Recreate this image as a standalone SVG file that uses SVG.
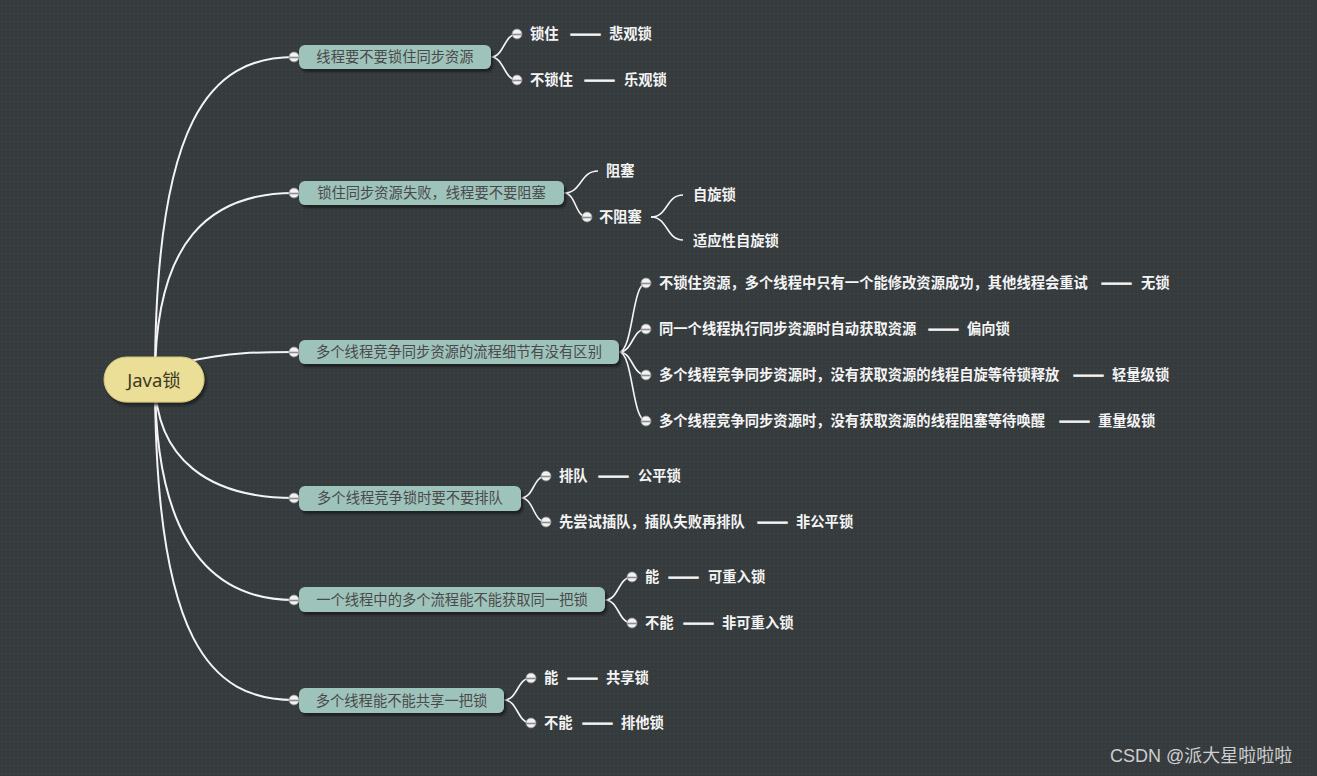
<svg xmlns="http://www.w3.org/2000/svg" width="1317" height="776" viewBox="0 0 1317 776">
<defs>
<pattern id="dots" width="4" height="4" patternUnits="userSpaceOnUse">
<rect width="4" height="4" fill="#363b3e"/>
<rect x="1" y="1" width="1" height="1" fill="#42484b"/>
</pattern>
<filter id="sh" x="-10%" y="-30%" width="130%" height="180%">
<feDropShadow dx="2" dy="3" stdDeviation="1.2" flood-color="#15191b" flood-opacity="0.8"/>
</filter>
<g id="knob">
<circle r="5" fill="#f2f2f2" stroke="#8a8a8a" stroke-width="0.8"/>
<line x1="-4.5" y1="0.5" x2="4.5" y2="0.5" stroke="#8c8c8c" stroke-width="1.6"/>
</g>
</defs>
<style>
.main{fill:#9ec3bb;}
.mt{font-family:"Noto Sans CJK SC","Microsoft YaHei",sans-serif;font-size:14.3px;fill:#4a4a4a;text-anchor:middle;}
.ct{font-family:"Noto Sans CJK SC","Microsoft YaHei",sans-serif;font-size:14.3px;font-weight:bold;fill:#f4f4f4;}
.d{stroke:#f4f4f4;stroke-width:0.9;}
.e1{fill:none;stroke:#f4f4f4;stroke-width:2;}
.e2{fill:none;stroke:#f4f4f4;stroke-width:1.6;}
</style>
<rect width="1317" height="776" fill="url(#dots)"/>

<g id="connectors">
<path class="e1" d="M155,379 C155,120 210,57 294,57"/>
<path class="e1" d="M155,379 C155,240 210,193 294,193"/>
<path class="e1" d="M185,362 C230,352 260,352 294,352"/>
<path class="e1" d="M155,379 C155,460 210,498 294,498"/>
<path class="e1" d="M155,379 C155,540 210,600 294,600"/>
<path class="e1" d="M155,379 C155,640 210,700 294,700"/>
<path class="e2" d="M491,57 C504,57 504,34 517,34"/>
<path class="e2" d="M491,57 C504,57 504,80 517,80"/>
<path class="e2" d="M564,193 C582,193 580,171 598,171"/>
<path class="e2" d="M564,193 C576,193 575,217 587,217"/>
<path class="e2" d="M651,217 C668,217 666,195 683,195"/>
<path class="e2" d="M651,217 C668,217 666,240 683,240"/>
<path class="e2" d="M619,352 C633,352 632,283 646,283"/>
<path class="e2" d="M619,352 C633,352 632,329 646,329"/>
<path class="e2" d="M619,352 C633,352 632,375 646,375"/>
<path class="e2" d="M619,352 C633,352 632,421 646,421"/>
<path class="e2" d="M521,498 C534,498 533,476 546,476"/>
<path class="e2" d="M521,498 C534,498 533,522 546,522"/>
<path class="e2" d="M605,600 C619,600 618,577 632,577"/>
<path class="e2" d="M605,600 C619,600 618,623 632,623"/>
<path class="e2" d="M504,700 C518,700 517,678 531,678"/>
<path class="e2" d="M504,700 C518,700 517,723 531,723"/>
</g>

<g id="root">
<rect x="104" y="357" width="100" height="45" rx="22.5" fill="#ebdf98" stroke="#d3c67c" stroke-width="1" filter="url(#sh)"/>
<text x="154" y="387" font-family="Noto Sans, Noto Sans CJK SC, sans-serif" font-size="18.5" fill="#3b3a22" text-anchor="middle">Java锁</text>
</g>

<g id="n1">
<rect class="main" x="299" y="45" width="192" height="24" rx="6" filter="url(#sh)"/>
<text class="mt" x="395" y="62">线程要不要锁住同步资源</text>
<use href="#knob" x="294" y="57"/>
</g>
<g id="n1a"><use href="#knob" x="517" y="34"/><text class="ct" y="39"><tspan x="530">锁住</tspan><tspan class="d" x="570" textLength="31" lengthAdjust="spacingAndGlyphs">——</tspan><tspan x="609">悲观锁</tspan></text></g>
<g id="n1b"><use href="#knob" x="517" y="80"/><text class="ct" y="85"><tspan x="530">不锁住</tspan><tspan class="d" x="584" textLength="31" lengthAdjust="spacingAndGlyphs">——</tspan><tspan x="624">乐观锁</tspan></text></g>

<g id="n2">
<rect class="main" x="299" y="181" width="265" height="24" rx="6" filter="url(#sh)"/>
<text class="mt" x="431.5" y="198">锁住同步资源失败，线程要不要阻塞</text>
<use href="#knob" x="294" y="193"/>
</g>
<g id="n2a"><text class="ct" x="606" y="176">阻塞</text></g>
<g id="n2b"><use href="#knob" x="587" y="217"/><text class="ct" x="599" y="222">不阻塞</text></g>
<g id="n2b1"><text class="ct" x="693" y="200">自旋锁</text></g>
<g id="n2b2"><text class="ct" x="693" y="246">适应性自旋锁</text></g>

<g id="n3">
<rect class="main" x="299" y="340" width="320" height="24" rx="6" filter="url(#sh)"/>
<text class="mt" x="459" y="357">多个线程竞争同步资源的流程细节有没有区别</text>
<use href="#knob" x="294" y="352"/>
</g>
<g id="n3a"><use href="#knob" x="646" y="283"/><text class="ct" y="288"><tspan x="659">不锁住资源，多个线程中只有一个能修改资源成功，其他线程会重试</tspan><tspan class="d" x="1101" textLength="31" lengthAdjust="spacingAndGlyphs">——</tspan><tspan x="1141">无锁</tspan></text></g>
<g id="n3b"><use href="#knob" x="646" y="329"/><text class="ct" y="334"><tspan x="659">同一个线程执行同步资源时自动获取资源</tspan><tspan class="d" x="928" textLength="31" lengthAdjust="spacingAndGlyphs">——</tspan><tspan x="967">偏向锁</tspan></text></g>
<g id="n3c"><use href="#knob" x="646" y="375"/><text class="ct" y="380"><tspan x="659">多个线程竞争同步资源时，没有获取资源的线程自旋等待锁释放</tspan><tspan class="d" x="1073" textLength="31" lengthAdjust="spacingAndGlyphs">——</tspan><tspan x="1112">轻量级锁</tspan></text></g>
<g id="n3d"><use href="#knob" x="646" y="421"/><text class="ct" y="426"><tspan x="659">多个线程竞争同步资源时，没有获取资源的线程阻塞等待唤醒</tspan><tspan class="d" x="1059" textLength="31" lengthAdjust="spacingAndGlyphs">——</tspan><tspan x="1098">重量级锁</tspan></text></g>

<g id="n4">
<rect class="main" x="299" y="486" width="222" height="25" rx="6" filter="url(#sh)"/>
<text class="mt" x="410" y="503">多个线程竞争锁时要不要排队</text>
<use href="#knob" x="294" y="498"/>
</g>
<g id="n4a"><use href="#knob" x="546" y="476"/><text class="ct" y="481"><tspan x="559">排队</tspan><tspan class="d" x="598" textLength="31" lengthAdjust="spacingAndGlyphs">——</tspan><tspan x="638">公平锁</tspan></text></g>
<g id="n4b"><use href="#knob" x="546" y="522"/><text class="ct" y="527"><tspan x="559">先尝试插队，插队失败再排队</tspan><tspan class="d" x="757" textLength="31" lengthAdjust="spacingAndGlyphs">——</tspan><tspan x="796">非公平锁</tspan></text></g>

<g id="n5">
<rect class="main" x="299" y="587" width="306" height="25" rx="6" filter="url(#sh)"/>
<text class="mt" x="452" y="604.5">一个线程中的多个流程能不能获取同一把锁</text>
<use href="#knob" x="294" y="600"/>
</g>
<g id="n5a"><use href="#knob" x="632" y="577"/><text class="ct" y="582"><tspan x="645">能</tspan><tspan class="d" x="668" textLength="31" lengthAdjust="spacingAndGlyphs">——</tspan><tspan x="708">可重入锁</tspan></text></g>
<g id="n5b"><use href="#knob" x="632" y="623"/><text class="ct" y="628"><tspan x="645">不能</tspan><tspan class="d" x="683" textLength="31" lengthAdjust="spacingAndGlyphs">——</tspan><tspan x="722">非可重入锁</tspan></text></g>

<g id="n6">
<rect class="main" x="299" y="688" width="205" height="25" rx="6" filter="url(#sh)"/>
<text class="mt" x="401.5" y="705.5">多个线程能不能共享一把锁</text>
<use href="#knob" x="294" y="700"/>
</g>
<g id="n6a"><use href="#knob" x="531" y="678"/><text class="ct" y="683"><tspan x="544">能</tspan><tspan class="d" x="567" textLength="31" lengthAdjust="spacingAndGlyphs">——</tspan><tspan x="606">共享锁</tspan></text></g>
<g id="n6b"><use href="#knob" x="531" y="723"/><text class="ct" y="728"><tspan x="544">不能</tspan><tspan class="d" x="582" textLength="31" lengthAdjust="spacingAndGlyphs">——</tspan><tspan x="621">排他锁</tspan></text></g>

<text x="1110" y="762" font-family="Liberation Sans, Noto Sans CJK SC, sans-serif" font-size="18" fill="#cfcfcf">CSDN @派大星啦啦啦</text>
</svg>
